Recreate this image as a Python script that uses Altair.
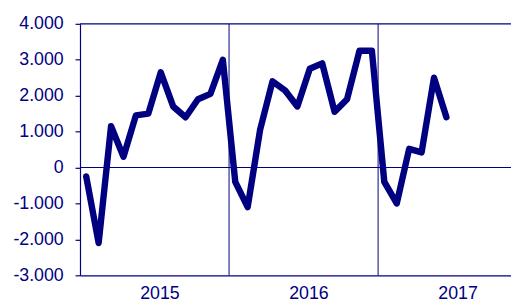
import altair as alt
import pandas as pd

NAVY = "#000080"

values = [-250, -2100, 1150, 300, 1450, 1500, 2650, 1700, 1400, 1900, 2050, 3000,
          -400, -1100, 1050, 2400, 2150, 1700, 2750, 2900, 1550, 1900, 3250, 3250,
          -400, -1000, 520, 420, 2500, 1400]
years = ["2015", "2016", "2017"]
y_ticks = [-3000, -2000, -1000, 0, 1000, 2000, 3000, 4000]
year_boundaries = [12, 24]
h_lines = [0, 4000]

df = pd.DataFrame({"t": [i + 0.5 for i in range(len(values))], "v": values})
bnd = pd.DataFrame({"t": year_boundaries})
hdf = pd.DataFrame({"v": h_lines})

x_scale = alt.Scale(domain=[0, 34.7], nice=False, zero=False)
y_scale = alt.Scale(domain=[-3000, 4000], nice=False)

label_expr = f"datum.value == 6 ? '{years[0]}' : datum.value == 18 ? '{years[1]}' : '{years[2]}'"
y_label_expr = "replace(replace(format(datum.value, ','), ',', '.'), '\u2212', '-')"

x_axis = alt.Axis(values=[6, 18, 30], labelExpr=label_expr, title=None,
                  ticks=False, grid=False, domainColor=NAVY, domainWidth=1.2,
                  labelColor=NAVY, labelFont="Liberation Sans", labelFontSize=18,
                  labelPadding=10, labelOffset=5, labelOverlap=False)
y_axis = alt.Axis(values=y_ticks, labelExpr=y_label_expr, title=None,
                  grid=False, tickSize=5, tickColor=NAVY, tickWidth=1.2,
                  domainColor=NAVY, domainWidth=1.2, labelColor=NAVY,
                  labelFont="Liberation Sans", labelFontSize=18, labelPadding=12,
                  labelOverlap=False)

line = alt.Chart(df).mark_line(color=NAVY, strokeWidth=6.5, strokeCap="round",
                               strokeJoin="round").encode(
    x=alt.X("t:Q", scale=x_scale, axis=x_axis),
    y=alt.Y("v:Q", scale=y_scale, axis=y_axis),
)

vrules = alt.Chart(bnd).mark_rule(color=NAVY, strokeWidth=1).encode(
    x=alt.X("t:Q", scale=x_scale, axis=x_axis))
hrules = alt.Chart(hdf).mark_rule(color=NAVY, strokeWidth=1.2).encode(
    y=alt.Y("v:Q", scale=y_scale, axis=y_axis))

chart = alt.layer(vrules, hrules, line).properties(
    width=437, height=255,
    autosize=alt.AutoSizeParams(type="none"),
    padding={"left": 73, "top": 14, "right": 0, "bottom": 24},
).configure_view(stroke=None)

chart.save("out.html", embed_options={"renderer": "svg", "actions": False})
